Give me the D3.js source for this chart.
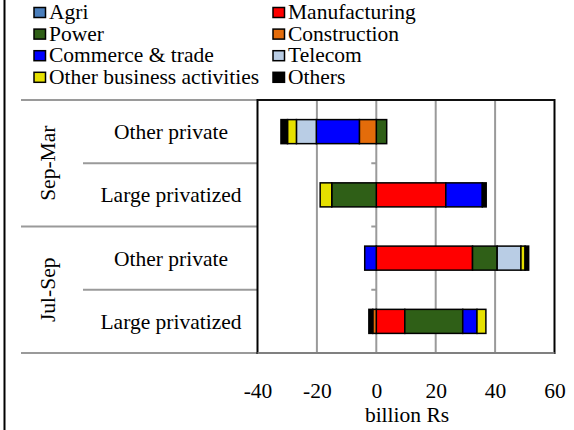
<!DOCTYPE html>
<html>
<head>
<meta charset="utf-8">
<script src="https://cdn.jsdelivr.net/npm/d3@7"></script>
<style>
  html, body { margin: 0; padding: 0; background: #fff; }
  svg { display: block; }
</style>
</head>
<body>
<svg id="chart" width="574" height="430" font-family="'Liberation Serif', 'DejaVu Serif', serif"></svg>
<script>
// Sector breakdown, billion Rs, rows listed top to bottom
const rowLabels = ["Other private", "Large privatized", "Other private", "Large privatized"];
const rowGroups = ["Sep-Mar", "Sep-Mar", "Jul-Sep", "Jul-Sep"];
const groupNames = ["Sep-Mar", "Jul-Sep"];

const seriesNames = ["Agri", "Manufacturing", "Power", "Construction",
  "Commerce & trade", "Telecom", "Other business activities", "Others"];
const seriesColors = ["#4a7ebb", "#ff0000", "#2f5f17", "#e46c0a",
  "#0000ff", "#b9cde5", "#e6e000", "#000000"];

const agri          = [0, 0, 0, 0];
const manufacturing = [0, 23.4, 32.4, 9.6];
const power         = [3.5, -15.0, 8.3, 19.5];
const construction  = [-5.7, 0, 0, -1.2];
const commerce      = [-14.5, 12.3, -3.9, 4.8];
const telecom       = [-6.7, 0, 8.0, 0];
const otherBusiness = [-3.0, -3.9, 1.4, 3.0];
const others        = [-2.2, 1.3, 1.2, -1.3];

const xTicks = [-40, -20, 0, 20, 40, 60];
const xTickLabels = ["-40", "-20", "0", "20", "40", "60"];
const xTitle = "billion Rs";

const seriesValues = [agri, manufacturing, power, construction, commerce, telecom, otherBusiness, others];

// table of rows for d3.stack
const table = rowLabels.map((lab, i) => {
  const row = { idx: i };
  seriesNames.forEach((s, j) => { row[s] = seriesValues[j][i]; });
  return row;
});

const svg = d3.select("#chart");
const FONT = "Liberation Serif";
const FS = 21.5;

const plot = { left: 257.5, right: 554.5, top: 100, bottom: 353 };

const x = d3.scaleLinear().domain([-40, 60]).range([plot.left, plot.right]);
const y = d3.scaleBand().domain(d3.range(rowLabels.length)).range([plot.top, plot.bottom]);
const barH = y.bandwidth() * 0.38;

// outer left rule of the figure
svg.append("line").attr("x1", 4.5).attr("x2", 4.5).attr("y1", 0).attr("y2", 430)
  .attr("stroke", "#000").attr("stroke-width", 2);

// legend, two entries per line
const legend = svg.append("g");
seriesNames.forEach((name, i) => {
  const col = i % 2, line = Math.floor(i / 2);
  const mx = col === 0 ? 34 : 273;
  const base = 19 + line * 21.6;
  legend.append("rect")
    .attr("x", mx).attr("y", base - 11.5).attr("width", 11.5).attr("height", 10)
    .attr("fill", seriesColors[i]).attr("stroke", "#000").attr("stroke-width", 1.5);
  legend.append("text")
    .attr("x", mx + 15).attr("y", base)
    .attr("font-family", FONT).attr("font-size", FS).attr("fill", "#000")
    .text(name);
});

// vertical gridlines
svg.append("g").selectAll("line")
  .data(xTicks.filter(t => t > -40 && t < 60))
  .join("line")
  .attr("x1", d => x(d)).attr("x2", d => x(d))
  .attr("y1", plot.top).attr("y2", plot.bottom)
  .attr("stroke", "#9a9a9a").attr("stroke-width", 2);

// category table lines on the left
const gray = "#9a9a9a";
const tableLines = [
  { y: plot.top, x1: 21 },
  { y: y(1), x1: 83 },
  { y: y(2), x1: 21 },
  { y: y(3), x1: 83 },
  { y: plot.bottom, x1: 21 }
];
svg.append("g").selectAll("line").data(tableLines).join("line")
  .attr("x1", d => d.x1).attr("x2", plot.left)
  .attr("y1", d => d.y).attr("y2", d => d.y)
  .attr("stroke", gray).attr("stroke-width", 2);

// small category ticks on the zero line
svg.append("g").selectAll("line").data([1, 2, 3]).join("line")
  .attr("x1", x(0) - 5).attr("x2", x(0))
  .attr("y1", d => y(d)).attr("y2", d => y(d))
  .attr("stroke", gray).attr("stroke-width", 2);

// diverging stacked bars
const stack = d3.stack().keys(seriesNames).offset(d3.stackOffsetDiverging);
const layers = stack(table);
const bars = svg.append("g");
layers.forEach((layer, j) => {
  bars.selectAll(null)
    .data(layer.filter(d => d[1] - d[0] !== 0))
    .join("rect")
    .attr("x", d => x(Math.min(d[0], d[1])))
    .attr("width", d => Math.abs(x(d[1]) - x(d[0])))
    .attr("y", d => y(d.data.idx) + (y.bandwidth() - barH) / 2)
    .attr("height", barH)
    .attr("fill", seriesColors[j])
    .attr("stroke", "#000").attr("stroke-width", 1.5);
});

// plot frame
const frame = svg.append("g");
frame.append("line").attr("x1", plot.left).attr("x2", plot.left).attr("y1", plot.top - 1).attr("y2", plot.bottom + 1)
  .attr("stroke", "#000").attr("stroke-width", 2);
frame.append("line").attr("x1", plot.right).attr("x2", plot.right).attr("y1", plot.top - 1).attr("y2", plot.bottom + 1)
  .attr("stroke", "#000").attr("stroke-width", 2);
frame.append("line").attr("x1", plot.left).attr("x2", plot.right).attr("y1", plot.top).attr("y2", plot.top)
  .attr("stroke", "#111").attr("stroke-width", 2);
frame.append("line").attr("x1", plot.left).attr("x2", plot.right).attr("y1", plot.bottom).attr("y2", plot.bottom)
  .attr("stroke", "#808080").attr("stroke-width", 2);

// row labels
svg.append("g").selectAll("text").data(rowLabels).join("text")
  .attr("x", 171).attr("y", (d, i) => y(i) + y.bandwidth() / 2 + 7.5)
  .attr("text-anchor", "middle")
  .attr("font-family", FONT).attr("font-size", FS).attr("fill", "#000")
  .text(d => d);

// group labels, rotated
svg.append("g").selectAll("text").data(groupNames).join("text")
  .attr("transform", g => {
    const idx = rowGroups.map((r, i) => r === g ? i : -1).filter(i => i >= 0);
    const cy = (y(idx[0]) + y(idx[idx.length - 1]) + y.bandwidth()) / 2;
    return `translate(55,${cy}) rotate(-90)`;
  })
  .attr("text-anchor", "middle")
  .attr("font-family", FONT).attr("font-size", FS).attr("fill", "#000")
  .text(d => d);

// value axis labels
const xAxis = d3.axisBottom(x).tickValues(xTicks).tickSize(0)
  .tickFormat((d, i) => xTickLabels[i]);
const axisG = svg.append("g").attr("transform", `translate(0,${plot.bottom})`).call(xAxis);
axisG.select(".domain").remove();
axisG.selectAll("text")
  .attr("y", 45).attr("dy", 0)
  .attr("font-family", FONT).attr("font-size", FS)
  .attr("fill", "#000");

svg.append("text")
  .attr("x", (plot.left + plot.right) / 2 + 1).attr("y", 422)
  .attr("text-anchor", "middle")
  .attr("font-family", FONT).attr("font-size", FS).attr("fill", "#000")
  .text(xTitle);
</script>
</body>
</html>
